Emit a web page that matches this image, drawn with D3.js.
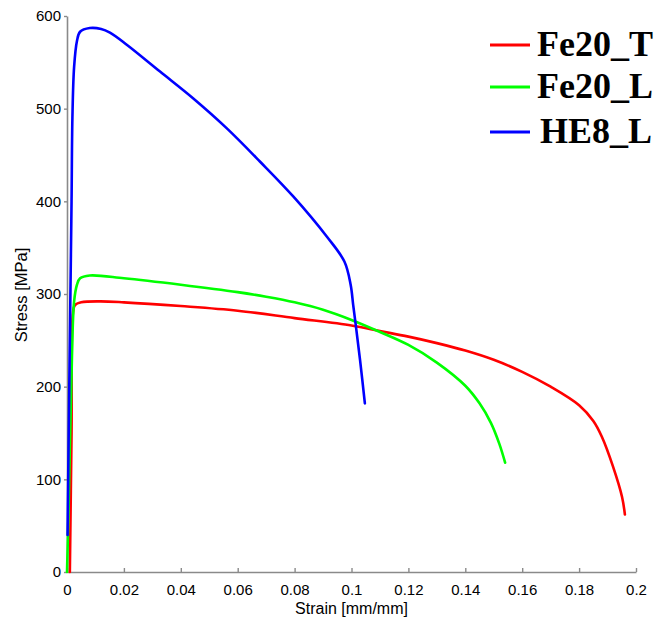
<!DOCTYPE html>
<html>
<head>
<meta charset="utf-8">
<script src="https://cdn.jsdelivr.net/npm/d3@7"></script>
<style>
  html, body { margin: 0; padding: 0; background: #fff; }
  svg { display: block; }
</style>
</head>
<body>
<svg id="chart" width="655" height="620"></svg>
<script>
// Stress–strain curves for three steel specimens
const seriesNames = ["Fe20_T", "Fe20_L", "HE8_L"];
const seriesColors = ["#ff0000", "#00ff00", "#0000ff"];

const strainFe20T = [0.0010, 0.0016, 0.0021, 0.0028, 0.0050, 0.0116, 0.020, 0.040, 0.060, 0.080, 0.100, 0.110, 0.120, 0.130, 0.140, 0.150, 0.160, 0.170, 0.180, 0.185, 0.188, 0.1919, 0.1951, 0.1961];
const stressFe20T = [0, 150, 280, 288, 291, 292, 291, 287, 282, 274, 266, 260, 254, 247, 239, 229, 216, 200, 180, 163, 146, 114, 81, 62];

const strainFe20L = [0.0000, 0.0005, 0.0015, 0.0025, 0.0035, 0.0046, 0.0080, 0.020, 0.040, 0.060, 0.070, 0.080, 0.090, 0.100, 0.110, 0.120, 0.130, 0.140, 0.145, 0.149, 0.152, 0.154];
const stressFe20L = [0, 60, 200, 292, 310, 317, 320, 317, 310, 302, 297, 291, 283, 272, 259, 245, 226, 201, 182, 161, 138, 118];

const strainHE8L = [0.0002, 0.0006, 0.0012, 0.0016, 0.0019, 0.0025, 0.0035, 0.0046, 0.0080, 0.0120, 0.0151, 0.0210, 0.0327, 0.0444, 0.0561, 0.0678, 0.0796, 0.0913, 0.0975, 0.0997, 0.1006, 0.1016, 0.1030, 0.1047];
const stressHE8L = [40, 150, 300, 400, 490, 545, 573, 583, 587, 586, 582, 569, 540, 511, 479, 443, 405, 362, 335, 310, 288, 264, 229, 182];

const xTickValues = [0, 0.02, 0.04, 0.06, 0.08, 0.1, 0.12, 0.14, 0.16, 0.18, 0.2];
const xTickLabels = ["0", "0.02", "0.04", "0.06", "0.08", "0.1", "0.12", "0.14", "0.16", "0.18", "0.2"];
const yTickValues = [0, 100, 200, 300, 400, 500, 600];
const yTickLabels = ["0", "100", "200", "300", "400", "500", "600"];

const xLabel = "Strain [mm/mm]";
const yLabel = "Stress [MPa]";

const curves = [
  { name: seriesNames[0], color: seriesColors[0], pts: d3.zip(strainFe20T, stressFe20T) },
  { name: seriesNames[1], color: seriesColors[1], pts: d3.zip(strainFe20L, stressFe20L) },
  { name: seriesNames[2], color: seriesColors[2], pts: d3.zip(strainHE8L, stressHE8L) }
];

const svg = d3.select("#chart");
const plot = { left: 67, right: 636, top: 16, bottom: 572 };

const x = d3.scaleLinear().domain([0, 0.2]).range([plot.left, plot.right]);
const y = d3.scaleLinear().domain([0, 600]).range([plot.bottom, plot.top]);

const axisColor = "#8a8a8a";
const tickFont = "'Liberation Sans', Arial, sans-serif";

// x axis with inward ticks
const gx = svg.append("g")
  .attr("transform", `translate(0,${plot.bottom})`)
  .call(d3.axisBottom(x)
    .tickValues(xTickValues)
    .tickFormat((d, i) => xTickLabels[i])
    .tickSizeInner(-4)
    .tickSizeOuter(0)
    .tickPadding(12));

// y axis
const gy = svg.append("g")
  .attr("transform", `translate(${plot.left},0)`)
  .call(d3.axisLeft(y)
    .tickValues(yTickValues)
    .tickFormat((d, i) => yTickLabels[i])
    .tickSizeInner(3)
    .tickSizeOuter(0)
    .tickPadding(3));

[gx, gy].forEach(g => {
  g.select(".domain").attr("stroke", axisColor).attr("stroke-width", 1.6);
  g.selectAll(".tick line").attr("stroke", axisColor).attr("stroke-width", 1.4);
  g.selectAll(".tick text")
    .attr("fill", "#000")
    .style("font-family", tickFont)
    .style("font-size", "15px");
});

// axis titles
svg.append("text")
  .attr("x", (plot.left + plot.right) / 2)
  .attr("y", 614)
  .attr("text-anchor", "middle")
  .style("font-family", tickFont)
  .style("font-size", "16px")
  .text(xLabel);

svg.append("text")
  .attr("transform", `translate(27,295) rotate(-90)`)
  .attr("text-anchor", "middle")
  .style("font-family", tickFont)
  .style("font-size", "16.5px")
  .text(yLabel);

// curves (centripetal Catmull–Rom keeps the sharp yield corners without overshoot)
const line = d3.line()
  .x(d => x(d[0]))
  .y(d => y(d[1]))
  .curve(d3.curveCatmullRom.alpha(0.5));

svg.append("g")
  .selectAll("path")
  .data(curves)
  .join("path")
  .attr("d", d => line(d.pts))
  .attr("fill", "none")
  .attr("stroke", d => d.color)
  .attr("stroke-width", 2.6)
  .attr("stroke-linejoin", "round")
  .attr("stroke-linecap", "round");

// legend
const legendRows = [45, 87, 132];
const legend = svg.append("g");
curves.forEach((c, i) => {
  legend.append("line")
    .attr("x1", 490).attr("x2", 530)
    .attr("y1", legendRows[i]).attr("y2", legendRows[i])
    .attr("stroke", c.color)
    .attr("stroke-width", 3);
  legend.append("text")
    .attr("x", i === 2 ? 540 : 537)
    .attr("y", legendRows[i] + 11)
    .style("font-family", "'Liberation Serif', 'Times New Roman', serif")
    .style("font-weight", "bold")
    .style("font-size", "36px")
    .attr("fill", "#000")
    .text(c.name);
});
</script>
</body>
</html>
